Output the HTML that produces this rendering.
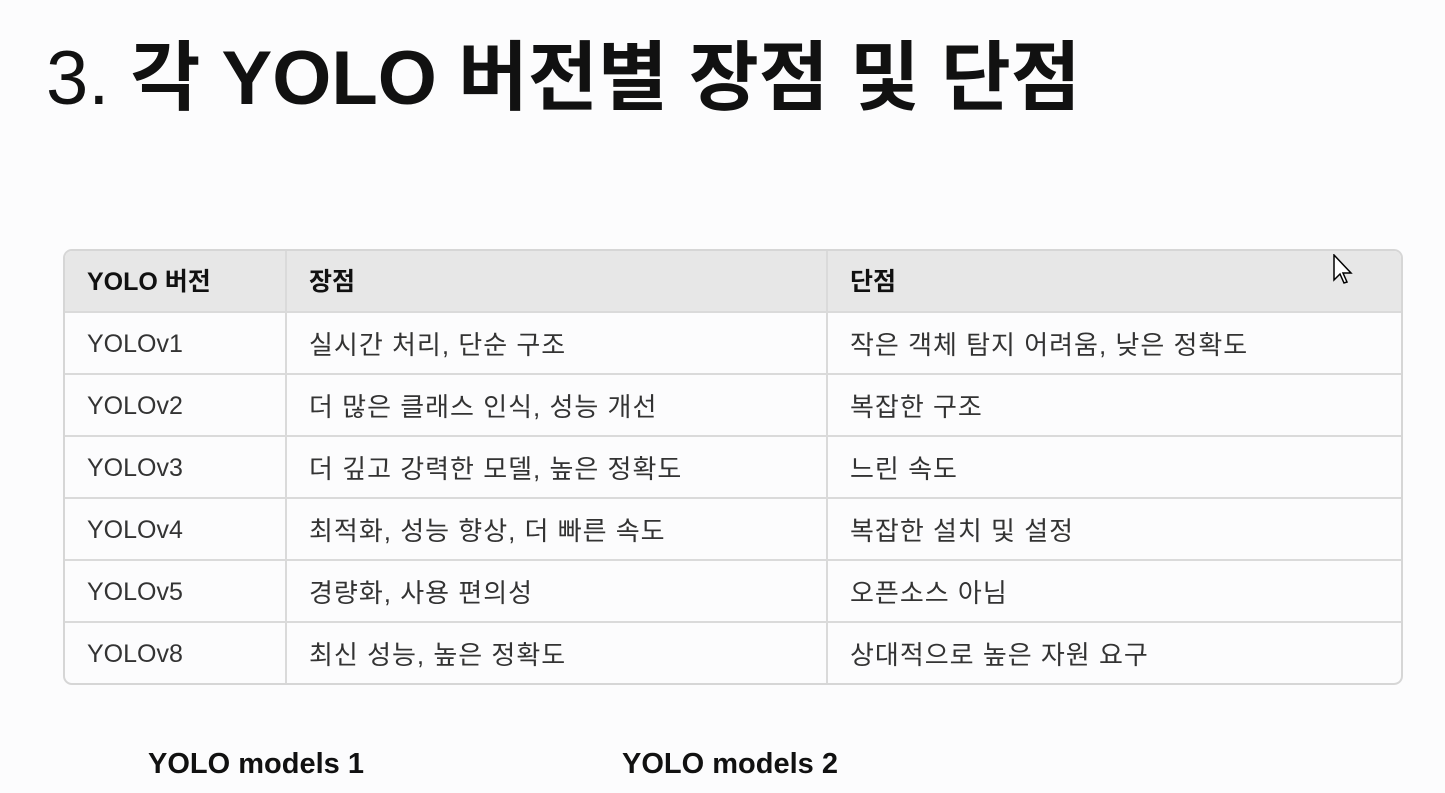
<!DOCTYPE html>
<html><head><meta charset="utf-8"><style>
body{margin:0;width:1445px;height:793px;background:#fcfcfd;position:relative;overflow:hidden;font-family:"Liberation Sans","Noto Sans CJK KR",sans-serif;}
.title{position:absolute;left:46px;top:29px;font-size:76px;line-height:100px;color:#111;white-space:nowrap;}
.title b{font-weight:bold;}
table{position:absolute;left:63px;top:249px;width:1340px;border-collapse:separate;border-spacing:0;border:2px solid #d6d6d6;border-radius:9px;overflow:hidden;table-layout:fixed;}
td,th{height:60px;line-height:60px;padding:0 0 0 22px;font-size:25px;text-align:left;border-right:2px solid #dadada;border-bottom:2px solid #dadada;color:#333;white-space:nowrap;vertical-align:middle;}
td+td{font-size:26px;letter-spacing:1px;}
td span,th span{display:inline-block;line-height:30px;vertical-align:middle;}
th{background:#e7e7e7;color:#111;font-weight:bold;}
tr td:last-child,tr th:last-child{border-right:none;}
tr:last-child td{border-bottom:none;}
.c1{width:198px}.c2{width:517px}
.lbl{position:absolute;top:748px;font-size:29px;font-weight:bold;color:#111;}
</style></head><body>
<div class="title">3. <b>각 YOLO 버전별 장점 및 단점</b></div>
<table>
<tr><th class="c1"><span>YOLO 버전</span></th><th class="c2"><span>장점</span></th><th><span>단점</span></th></tr>
<tr><td><span>YOLOv1</span></td><td><span>실시간 처리, 단순 구조</span></td><td><span>작은 객체 탐지 어려움, 낮은 정확도</span></td></tr>
<tr><td><span>YOLOv2</span></td><td><span>더 많은 클래스 인식, 성능 개선</span></td><td><span>복잡한 구조</span></td></tr>
<tr><td><span>YOLOv3</span></td><td><span>더 깊고 강력한 모델, 높은 정확도</span></td><td><span>느린 속도</span></td></tr>
<tr><td><span>YOLOv4</span></td><td><span>최적화, 성능 향상, 더 빠른 속도</span></td><td><span>복잡한 설치 및 설정</span></td></tr>
<tr><td><span>YOLOv5</span></td><td><span>경량화, 사용 편의성</span></td><td><span>오픈소스 아님</span></td></tr>
<tr><td><span>YOLOv8</span></td><td><span>최신 성능, 높은 정확도</span></td><td><span>상대적으로 높은 자원 요구</span></td></tr>
</table>
<svg style="position:absolute;left:1333px;top:254px" width="22" height="32"><path d="M1,1 L1,26 L7,20 L11,29 L14,28 L10,19 L18,19 Z" fill="#fff" stroke="#000" stroke-width="1.5"/></svg>
<div class="lbl" style="left:148px">YOLO models 1</div>
<div class="lbl" style="left:622px">YOLO models 2</div>
</body></html>
